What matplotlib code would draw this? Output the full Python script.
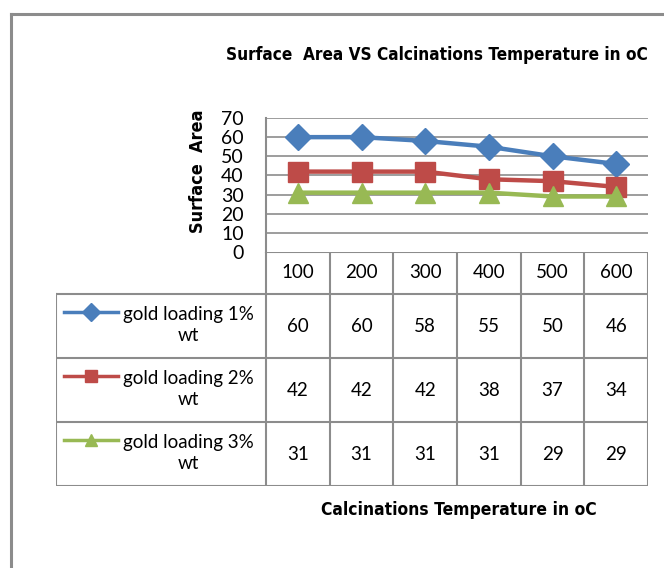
import numpy as np
import matplotlib.pyplot as plt
from matplotlib.lines import Line2D

# -- data
temps = ["100", "200", "300", "400", "500", "600"]
names = ["gold loading 1%\nwt", "gold loading 2%\nwt", "gold loading 3%\nwt"]
load1 = [60, 60, 58, 55, 50, 46]
load2 = [42, 42, 42, 38, 37, 34]
load3 = [31, 31, 31, 31, 29, 29]
yticks = [0, 10, 20, 30, 40, 50, 60, 70]

series = [load1, load2, load3]
colors = ["#4A7EBB", "#BE4B48", "#98B954"]
markers = ["D", "s", "^"]
msizes = [13, 14, 15]

W, H = 664, 568
numfont = ["Lato", "DejaVu Sans"]
bold = dict(family="DejaVu Sans", fontstretch="condensed", fontweight="bold")
gray = "#8C8C8C"

fig = plt.figure(figsize=(W / 100, H / 100), dpi=100)


def px_axes(x0, y0, x1, y1):
    # -- axes from pixel box (top-left origin)
    return fig.add_axes([x0 / W, 1 - y1 / H, (x1 - x0) / W, (y1 - y0) / H])


# -- outer chart border
fig.add_artist(Line2D([11 / W, 11 / W], [0, 1 - 14 / H], color=gray, lw=2.2,
                      transform=fig.transFigure))
fig.add_artist(Line2D([11 / W, 1], [1 - 14 / H, 1 - 14 / H], color=gray, lw=2.2,
                      transform=fig.transFigure))

# -- line plot
ax = px_axes(266, 118, 648, 252)
x = np.arange(len(temps))
for s, c, m, ms in zip(series, colors, markers, msizes):
    ax.plot(x, s, color=c, lw=3.2, marker=m, ms=ms, zorder=3, clip_on=False)
ax.set_xlim(-0.5, len(temps) - 0.5)
ax.set_ylim(0, 70)
ax.set_yticks(yticks)
ax.set_yticklabels([str(v) for v in yticks], fontsize=14, family=numfont)
ax.tick_params(axis="y", length=0, pad=16)
ax.set_xticks([])
for v in yticks[1:]:
    ax.axhline(v, color=gray, lw=1.2, zorder=1)
for k in ["top", "right", "bottom"]:
    ax.spines[k].set_visible(False)
ax.spines["left"].set_color(gray)
ax.spines["left"].set_linewidth(1.5)
ax.set_ylabel("Surface  Area", fontsize=13, **bold)
ax.yaxis.set_label_coords(-0.155, 0.6)

# -- data table below
tx = px_axes(56, 252, 648, 486)
unit = 382 / len(temps)
tx.set_xlim(-0.5 - 210 / unit, len(temps) - 0.5)
tx.set_ylim(234, 0)
tx.axis("off")
rows = [0, 42, 106, 170, 234]
left = -0.5 - 210 / unit
for i in range(len(temps) + 1):
    tx.plot([i - 0.5, i - 0.5], [0, 234], color=gray, lw=1.5)
tx.plot([left, left], [42, 234], color=gray, lw=1.5)
tx.plot([-0.5, len(temps) - 0.5], [0, 0], color=gray, lw=1.5)
for r in rows[1:]:
    tx.plot([left, len(temps) - 0.5], [r, r], color=gray, lw=1.5)
for i, t in enumerate(temps):
    tx.text(i, 21, t, ha="center", va="center", fontsize=13.5, family=numfont)
for j, (s, c, m, nm) in enumerate(zip(series, colors, markers, names)):
    yc = (rows[j + 1] + rows[j + 2]) / 2
    for i, v in enumerate(s):
        tx.text(i, yc, str(v), ha="center", va="center", fontsize=13.5,
                family=numfont)
    ly = yc - 14
    lx0 = left + 8 / unit
    lx1 = left + 62 / unit
    tx.plot([lx0, lx1], [ly, ly], color=c, lw=2.5)
    tx.plot([(lx0 + lx1) / 2], [ly], color=c, marker=m, ms=9)
    tx.text(left + 132 / unit, yc - 1, nm, ha="center", va="center",
            fontsize=13.5, family=numfont, linespacing=1.35)

# -- titles
fig.text(437 / W, 1 - 55 / H, "Surface  Area VS Calcinations Temperature in oC",
         ha="center", va="center", fontsize=12.3, **bold)
fig.text(459 / W, 1 - 510 / H, "Calcinations Temperature in oC",
         ha="center", va="center", fontsize=12.5, **bold)

fig.savefig("out.png", dpi=100)
